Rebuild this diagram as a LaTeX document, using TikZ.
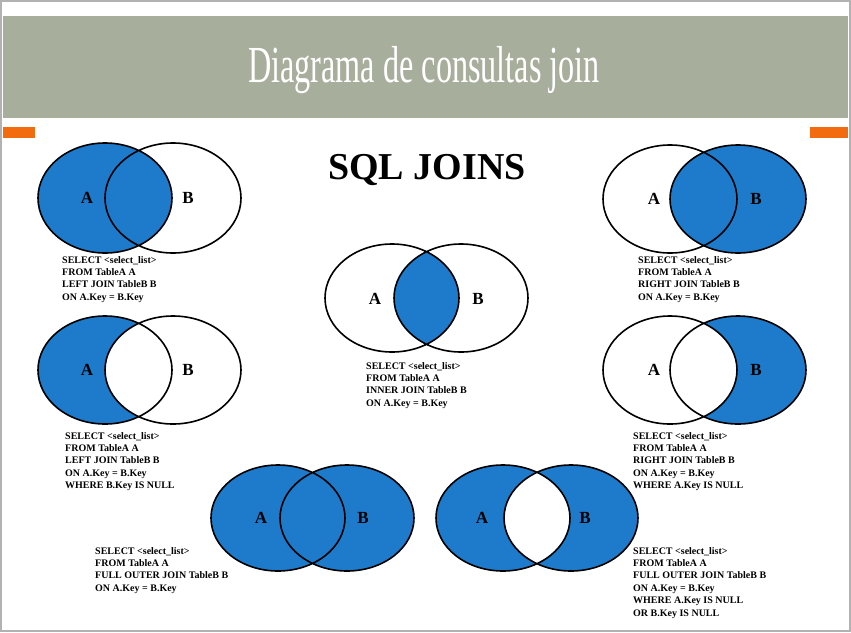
\documentclass[tikz,border=0pt]{standalone}
\usepackage{fontspec}
\setmainfont{Liberation Serif}
\newfontfamily\titlefont[FakeStretch=0.62]{Liberation Serif}
\begin{document}
\begin{tikzpicture}[x=1pt,y=-1pt,
  venn/.style={draw=black,line width=1.6pt},
  lbl/.style={font=\fontsize{17}{17}\selectfont\bfseries},
  code/.style={font=\fontsize{10}{12.4}\selectfont\bfseries,align=left,anchor=north west,inner sep=0pt}]
\definecolor{vblue}{HTML}{1E7BCB}
\definecolor{hdr}{HTML}{A8AE9C}
\definecolor{org}{HTML}{F26B0F}
\useasboundingbox (0,0) rectangle (851,632);
\fill[white] (0,0) rectangle (851,632);
\draw[gray!60,line width=2pt] (1,1) rectangle (850,631);
\fill[hdr] (3,16) rectangle (848,118);
\fill[org] (3,127) rectangle (35,138);
\fill[org] (810,127) rectangle (848,138);
\node[text=white,font=\titlefont\fontsize{52}{52}\selectfont] (title) at (424,70) {Diagrama de consultas join};
\node[font=\fontsize{38}{38}\selectfont\bfseries] (sql) at (427,170) {SQL JOINS};
% top-left: left join
\fill[vblue] (105,198) ellipse (67 and 55);
\draw[venn] (105,198) ellipse (67 and 55) (173,198) ellipse (68 and 55);
\node[lbl] (a1) at (87,198) {A}; \node[lbl] (b1) at (188,198) {B};
\node[code] (c1) at (62,256) {SELECT <select\_list>\\FROM TableA A\\LEFT JOIN TableB B\\ON A.Key = B.Key};
% top-right: right join
\fill[vblue] (738,199) ellipse (68 and 54);
\draw[venn] (670,199) ellipse (67 and 54) (738,199) ellipse (68 and 54);
\node[lbl] (a2) at (654,199) {A}; \node[lbl] (b2) at (756,199) {B};
\node[code] (c2) at (638,256) {SELECT <select\_list>\\FROM TableA A\\RIGHT JOIN TableB B\\ON A.Key = B.Key};
% middle: inner
\begin{scope}\clip (392,298) ellipse (67 and 54); \fill[vblue] (461,298) ellipse (67 and 54);\end{scope}
\draw[venn] (392,298) ellipse (67 and 54) (461,298) ellipse (67 and 54);
\node[lbl] (a3) at (375,299) {A}; \node[lbl] (b3) at (478,299) {B};
\node[code] (c3) at (366,362) {SELECT <select\_list>\\FROM TableA A\\INNER JOIN TableB B\\ON A.Key = B.Key};
% middle-left
\fill[vblue] (105,370) ellipse (67 and 54);
\fill[white] (173,370) ellipse (68 and 54);
\draw[venn] (105,370) ellipse (67 and 54) (173,370) ellipse (68 and 54);
\node[lbl] (a4) at (87,370) {A}; \node[lbl] (b4) at (188,370) {B};
\node[code] (c4) at (65,432) {SELECT <select\_list>\\FROM TableA A\\LEFT JOIN TableB B\\ON A.Key = B.Key\\WHERE B.Key IS NULL};
% middle-right
\fill[vblue] (738,370) ellipse (68 and 54);
\fill[white] (670,370) ellipse (67 and 54);
\draw[venn] (670,370) ellipse (67 and 54) (738,370) ellipse (68 and 54);
\node[lbl] (a5) at (654,370) {A}; \node[lbl] (b5) at (756,370) {B};
\node[code] (c5) at (633,432) {SELECT <select\_list>\\FROM TableA A\\RIGHT JOIN TableB B\\ON A.Key = B.Key\\WHERE A.Key IS NULL};
% bottom-left: full outer
\fill[vblue] (278,518) ellipse (67 and 53) (347,518) ellipse (67 and 53);
\draw[venn] (278,518) ellipse (67 and 53) (347,518) ellipse (67 and 53);
\node[lbl] (a6) at (261,518) {A}; \node[lbl] (b6) at (363,518) {B};
\node[code] (c6) at (95,547) {SELECT <select\_list>\\FROM TableA A\\FULL OUTER JOIN TableB B\\ON A.Key = B.Key};
% bottom-right: symmetric difference
\fill[vblue,even odd rule] (503,518) ellipse (67 and 53) (571,518) ellipse (67 and 53);
\draw[venn] (503,518) ellipse (67 and 53) (571,518) ellipse (67 and 53);
\node[lbl] (a7) at (482,518) {A}; \node[lbl] (b7) at (585,518) {B};
\node[code] (c7) at (633,547) {SELECT <select\_list>\\FROM TableA A\\FULL OUTER JOIN TableB B\\ON A.Key = B.Key\\WHERE A.Key IS NULL\\OR B.Key IS NULL};
\end{tikzpicture}
\end{document}
